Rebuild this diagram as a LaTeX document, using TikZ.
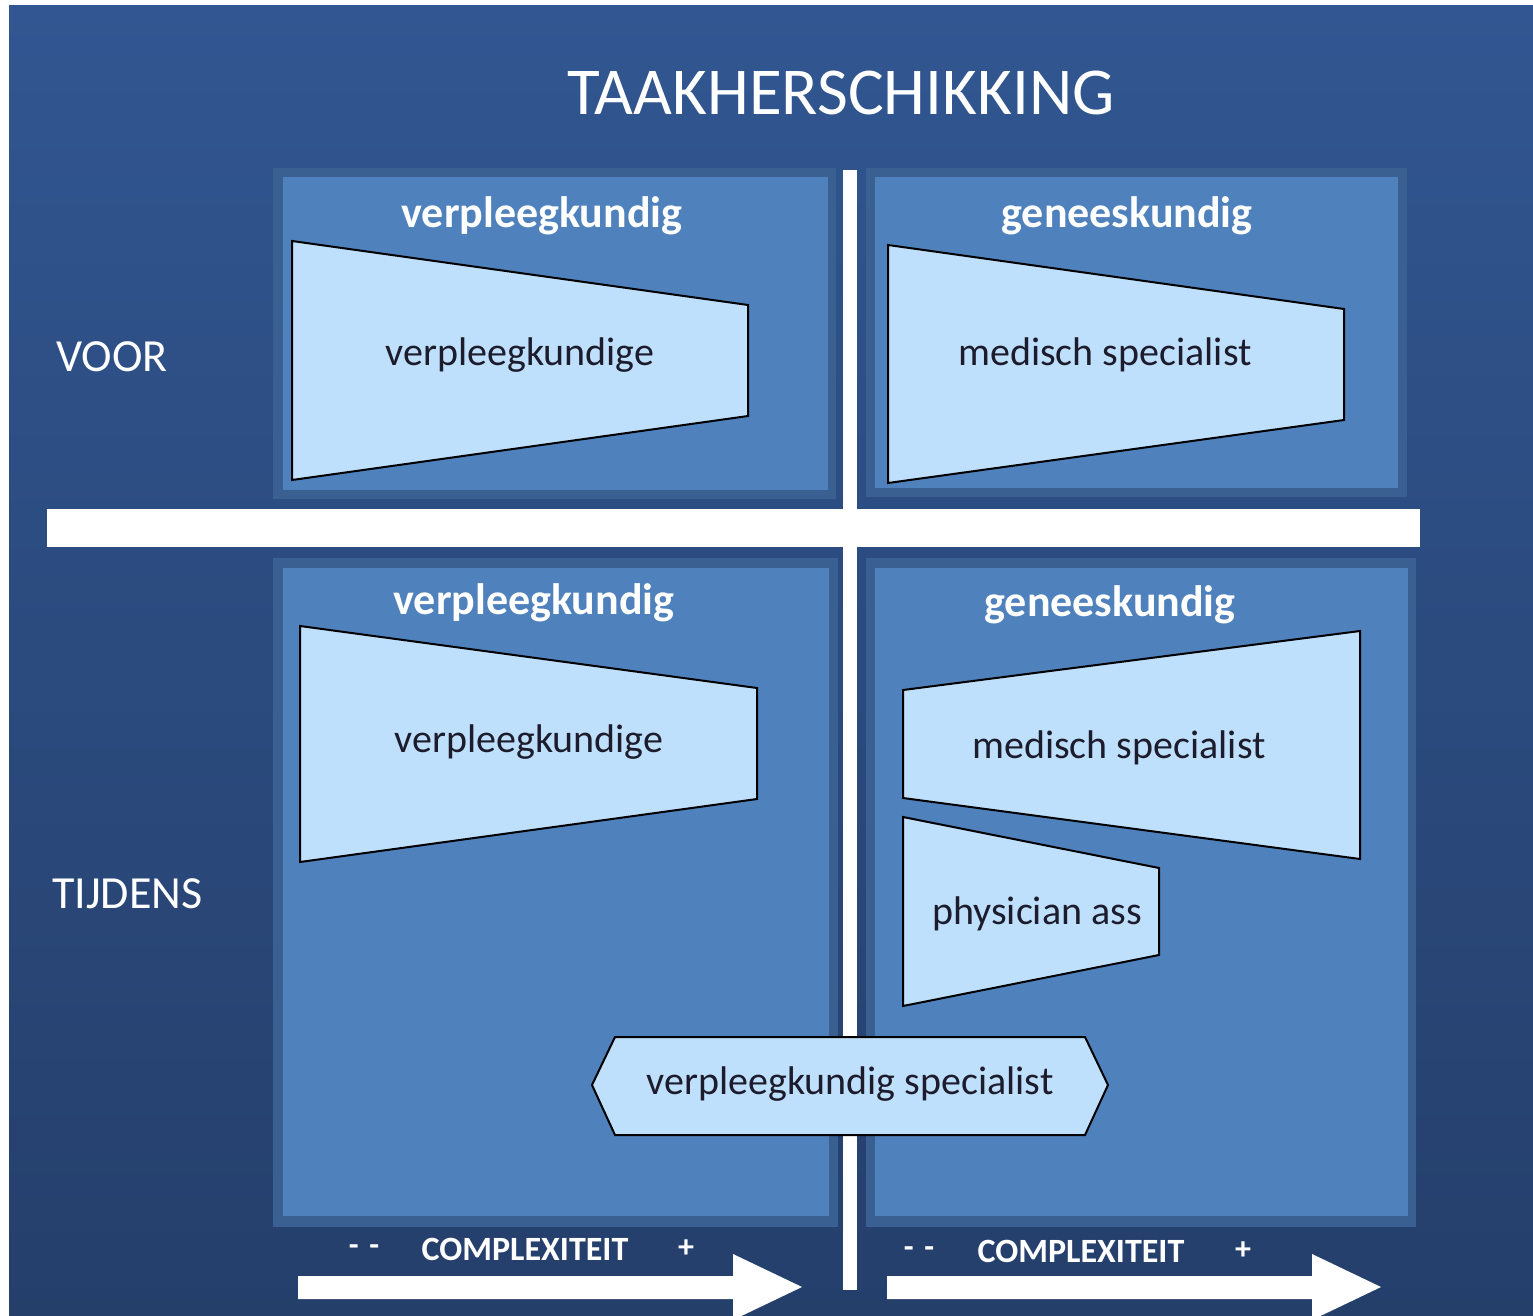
\documentclass[tikz,border=0pt]{standalone}
\usepackage{fontspec}
\setmainfont{Carlito}

\definecolor{bgtop}{RGB}{49,86,145}
\definecolor{bgbot}{RGB}{37,63,107}
\definecolor{panelrim}{RGB}{58,96,145}
\definecolor{panelfill}{RGB}{79,129,189}
\definecolor{shapefill}{RGB}{191,224,252}
\definecolor{shapetext}{RGB}{28,28,44}

\tikzset{
	rim/.style={fill=panelrim},
	panel/.style={fill=panelfill},
	bar/.style={fill=white},
	shapebox/.style={fill=shapefill, draw=black, line width=2pt},
	headlbl/.style={text=white, font=\fontsize{44}{50}\selectfont\bfseries},
	shapelbl/.style={text=shapetext, font=\fontsize{40}{46}\selectfont},
	rowlbl/.style={text=white, anchor=west, inner sep=0pt, font=\fontsize{46}{52}\selectfont},
	axislbl/.style={text=white, font=\fontsize{34}{40}\selectfont\bfseries},
	signlbl/.style={text=white, font=\fontsize{32}{38}\selectfont\bfseries}
}

\begin{document}
\begin{tikzpicture}[x=1pt, y=-1pt]
		\useasboundingbox (0,0) rectangle (1533,1316);
		\fill[white] (0,0) rectangle (1533,1316);
		\shade[top color=bgtop, bottom color=bgbot] (9,6) rectangle (1533,1316);

		% panels
		\fill[rim] (273,168) rectangle (836,499);
		\fill[panel] (283,177) rectangle (828,490);
		\fill[rim] (866,168) rectangle (1407,497);
		\fill[panel] (875,177) rectangle (1398,488);
		\fill[rim] (273,558) rectangle (838,1227);
		\fill[panel] (283,568) rectangle (829,1216);
		\fill[rim] (866,558) rectangle (1416,1227);
		\fill[panel] (875,568) rectangle (1408,1216);

		% cross
		\fill[bar] (843,170) rectangle (857,1290);
		\fill[bar] (47,509) rectangle (1420,547);

		% shapes
		\draw[shapebox] (292,241) -- (748,305) -- (748,416) -- (292,480) -- cycle;
		\draw[shapebox] (888,245) -- (1344,309) -- (1344,420) -- (888,483) -- cycle;
		\draw[shapebox] (300,626) -- (757,688) -- (757,799) -- (300,862) -- cycle;
		\draw[shapebox] (903,690) -- (1360,631) -- (1360,859) -- (903,798) -- cycle;
		\draw[shapebox] (903,817) -- (1159,868) -- (1159,955) -- (903,1006) -- cycle;
		\draw[shapebox] (592,1085) -- (615,1037) -- (1085,1037) -- (1108,1085) -- (1085,1135) -- (615,1135) -- cycle;

		% texts
		\node[text=white, font=\fontsize{67}{74}\selectfont] (title) at (841,93) {TAAKHERSCHIKKING};
		\node[rowlbl] (voor) at (56,357) {VOOR};
		\node[rowlbl] (tijdens) at (52,894) {TIJDENS};
		\node[headlbl] (vpk_voor) at (542,216) {verpleegkundig};
		\node[headlbl] (gnk_voor) at (1127,216) {geneeskundig};
		\node[headlbl] (vpk_tijd) at (534,603) {verpleegkundig};
		\node[headlbl] (gnk_tijd) at (1110,605) {geneeskundig};
		\node[shapelbl] (vpkg_voor) at (520,355) {verpleegkundige};
		\node[shapelbl] (ms_voor) at (1105,355) {medisch specialist};
		\node[shapelbl] (vpkg_tijd) at (529,742) {verpleegkundige};
		\node[shapelbl] (ms_tijd) at (1119,748) {medisch specialist};
		\node[shapelbl] (pa) at (1037,914) {physician ass};
		\node[shapelbl] (vs) at (850,1084) {verpleegkundig specialist};

		% complexiteit
		\node[signlbl] (min_l) at (364,1250) {-\,\,-};
		\node[axislbl] (cx_l) at (525,1249) {COMPLEXITEIT};
		\node[signlbl] (plus_l) at (686,1249) {+};
		\node[signlbl] (min_r) at (919,1252) {-\,\,-};
		\node[axislbl] (cx_r) at (1081,1251) {COMPLEXITEIT};
		\node[signlbl] (plus_r) at (1243,1251) {+};
		\fill[bar] (298,1276) -- (733,1276) -- (733,1254) -- (802,1287) -- (733,1320) -- (733,1299) -- (298,1299) -- cycle;
		\fill[bar] (887,1276) -- (1312,1276) -- (1312,1254) -- (1381,1287) -- (1312,1320) -- (1312,1299) -- (887,1299) -- cycle;
	\end{tikzpicture}
\end{document}
